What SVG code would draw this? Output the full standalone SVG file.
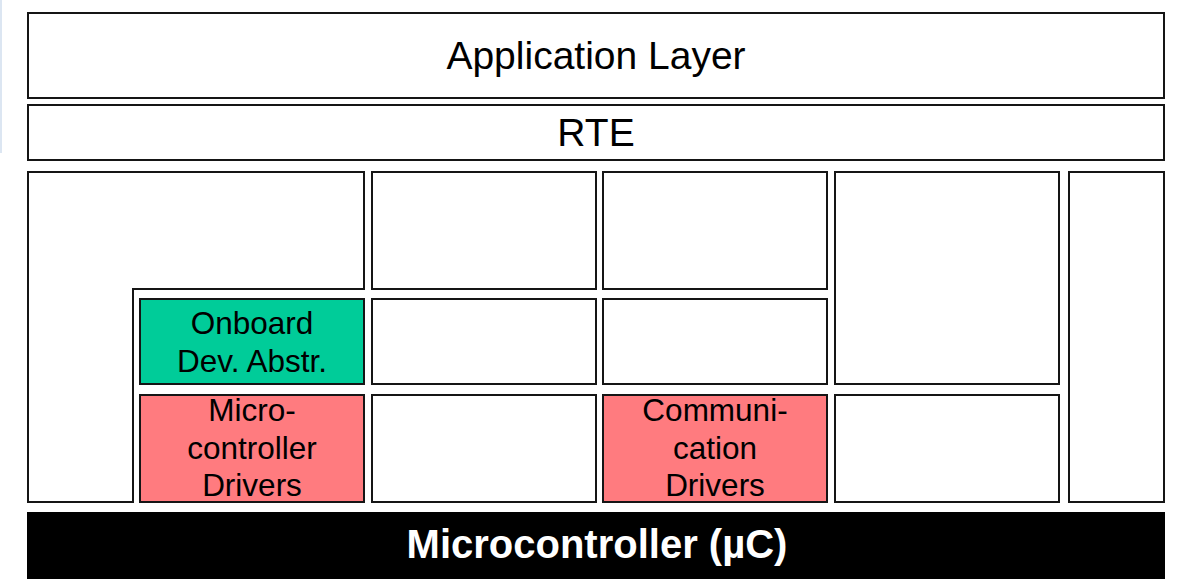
<svg xmlns="http://www.w3.org/2000/svg" width="1199" height="584" viewBox="0 0 1199 584">
<style>
.box{fill:#ffffff;stroke:#151515;stroke-width:2}
.green{fill:#00cc99;stroke:#151515;stroke-width:2}
.red{fill:#ff7b7f;stroke:#151515;stroke-width:2}
.t{font-family:"Liberation Sans",Arial,sans-serif;fill:#000;text-anchor:middle}
.big{font-size:39px}
.mid{font-size:31.5px}
.mc{font-family:"Liberation Sans",Arial,sans-serif;font-weight:bold;font-size:40px;fill:#fff;text-anchor:middle}
</style>
<rect width="1199" height="584" fill="#ffffff"/>
<rect x="0" y="0" width="2" height="153" fill="#dce6f2"/>
<g id="app"><rect class="box" x="28" y="13" width="1136" height="85"/><text class="t big" x="596" y="68.5">Application Layer</text></g>
<g id="rte"><rect class="box" x="28" y="105" width="1136" height="55"/><text class="t big" x="596" y="146">RTE</text></g>
<g id="lshape"><path class="box" d="M28,172 H364 V289 H133 V502 H28 Z"/></g>
<g id="onboard"><rect class="green" x="140" y="299" width="224" height="85"/><text class="t mid" x="252" y="334">Onboard</text><text class="t mid" x="252" y="371.5">Dev. Abstr.</text></g>
<g id="mcal"><rect class="red" x="140" y="395" width="224" height="107"/><text class="t mid" x="252" y="421">Micro-</text><text class="t mid" x="252" y="458.5">controller</text><text class="t mid" x="252" y="496">Drivers</text></g>
<g id="c2r1"><rect class="box" x="372" y="172" width="224" height="117"/></g>
<g id="c2r2"><rect class="box" x="372" y="299" width="224" height="85"/></g>
<g id="c2r3"><rect class="box" x="372" y="395" width="224" height="107"/></g>
<g id="c3r1"><rect class="box" x="603" y="172" width="224" height="117"/></g>
<g id="c3r2"><rect class="box" x="603" y="299" width="224" height="85"/></g>
<g id="comm"><rect class="red" x="603" y="395" width="224" height="107"/><text class="t mid" x="715" y="421">Communi-</text><text class="t mid" x="715" y="458.5">cation</text><text class="t mid" x="715" y="496">Drivers</text></g>
<g id="c4r1"><rect class="box" x="835" y="172" width="224" height="212"/></g>
<g id="c4r3"><rect class="box" x="835" y="395" width="224" height="107"/></g>
<g id="c5"><rect class="box" x="1069" y="172" width="95" height="330"/></g>
<g id="uc"><rect x="27" y="512" width="1138" height="67" fill="#000"/><text class="mc" x="597" y="558">Microcontroller (µC)</text></g>
<g id="connectors"/>
</svg>
